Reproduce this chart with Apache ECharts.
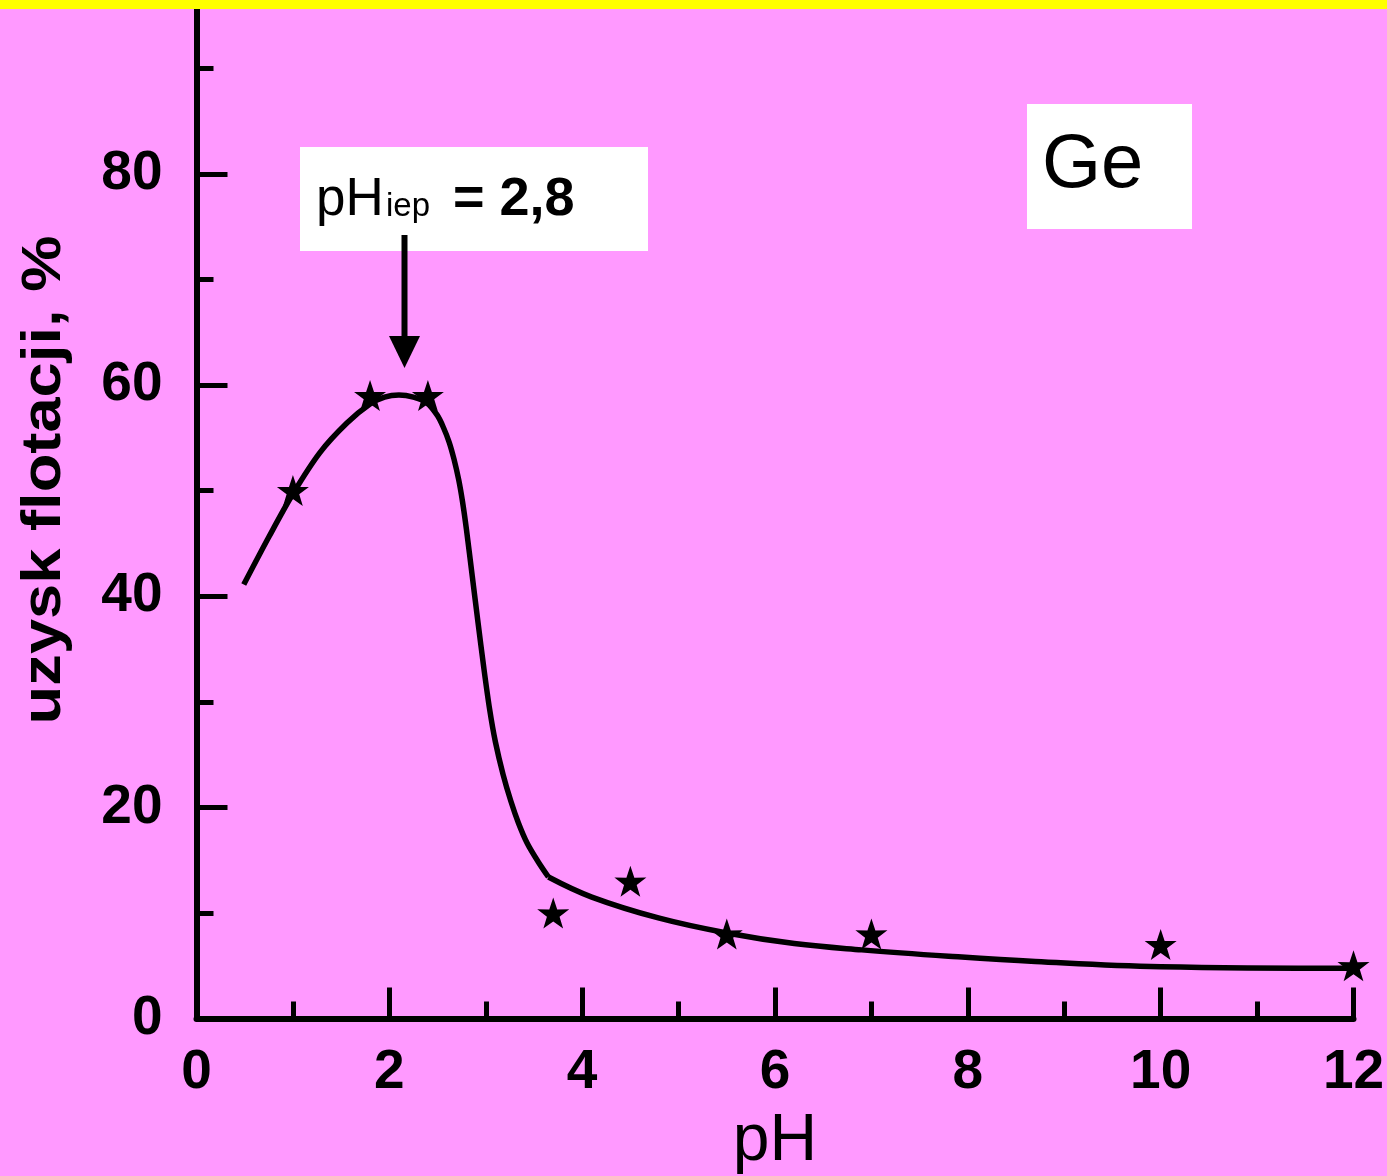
<!DOCTYPE html>
<html>
<head>
<meta charset="utf-8">
<script src="https://cdn.jsdelivr.net/npm/echarts@6/dist/echarts.min.js"></script>
<style>
html,body{margin:0;padding:0;background:#FF99FF;}
#chart{width:1387px;height:1176px;}
</style>
</head>
<body>
<div id="chart"></div>
<script>
// Measured points (stars)
const starPH = [1, 1.8, 2.4, 3.7, 4.5, 5.5, 7, 10, 12];
const starRecovery = [50, 59, 59, 10, 13, 8, 8, 7, 5];

// Fitted curve, acidic branch
const curveAcidPH  = [0.49, 0.75, 1.0, 1.28, 1.56, 1.8, 1.95, 2.1, 2.25, 2.39, 2.5, 2.56, 2.62, 2.67, 2.72, 2.76, 2.8, 2.86, 2.92, 2.98, 3.04, 3.10, 3.18, 3.26, 3.34, 3.43, 3.54, 3.65];
const curveAcidVal = [41.1, 45.6, 49.7, 53.6, 56.4, 58.2, 58.85, 59.05, 58.85, 58.3, 57.1, 56.0, 54.6, 53.0, 51.0, 48.9, 46.3, 41.9, 37.5, 33.2, 29.3, 26.2, 23.1, 20.6, 18.5, 16.6, 14.9, 13.4];

// Fitted curve, basic branch
const curveBasicPH  = [3.65, 4.1, 4.8, 5.5, 6.2, 6.9, 7.8, 8.7, 10.0, 12.0];
const curveBasicVal = [13.4, 11.5, 9.5, 8.1, 7.1, 6.5, 5.9, 5.4, 4.9, 4.75];

const xAxisTitle = 'pH';
const yAxisTitle = 'uzysk flotacji, %';
const iepMain = 'pH';
const iepSub = 'iep';
const iepValue = '= 2,8';
const elementLabel = 'Ge';

const zip = (a, b) => a.map((v, i) => [v, b[i]]);
const starPath = 'path://M50,0 L61.8,35.1 L97.6,34.5 L68.8,56.1 L79.4,90.5 L50,70 L20.6,90.5 L31.2,56.1 L2.4,34.5 L38.2,35.1 Z';

const chart = echarts.init(document.getElementById('chart'), null, {renderer: 'canvas'});
const tickFont = {fontFamily: 'Liberation Sans', fontWeight: 'bold', fontSize: 55, color: '#000'};

chart.setOption({
  backgroundColor: '#FF99FF',
  animation: false,
  grid: {left: 196.5, right: 33.5, top: -37.3, bottom: 157.5, containLabel: false, outerBoundsMode: 'none'},
  xAxis: {
    type: 'value', min: 0, max: 12, interval: 2,
    name: xAxisTitle, nameLocation: 'middle', nameGap: 90,
    nameTextStyle: {fontFamily: 'Liberation Sans', fontSize: 66, color: '#000'},
    axisLine: {show: true, onZero: false, lineStyle: {color: '#000', width: 6}},
    axisTick: {show: true, inside: true, length: 31, lineStyle: {color: '#000', width: 5}},
    minorTick: {show: true, splitNumber: 2, length: 17, lineStyle: {color: '#000', width: 5}},
    splitLine: {show: false},
    axisLabel: Object.assign({margin: 27}, tickFont)
  },
  yAxis: {
    type: 'value', min: 0, max: 100, interval: 20,
    axisLine: {show: true, onZero: false, lineStyle: {color: '#000', width: 6}},
    axisTick: {show: true, inside: true, length: 31, lineStyle: {color: '#000', width: 5}},
    minorTick: {show: true, splitNumber: 2, length: 17, lineStyle: {color: '#000', width: 5}},
    splitLine: {show: false},
    axisLabel: Object.assign({margin: 34, formatter: v => (v >= 100 ? '' : String(v))}, tickFont)
  },
  series: [
    {
      type: 'line', data: zip(curveAcidPH, curveAcidVal), smooth: 0.3,
      showSymbol: false, lineStyle: {color: '#000', width: 5.5}, z: 2
    },
    {
      type: 'line', data: zip(curveBasicPH, curveBasicVal), smooth: 0.4,
      showSymbol: false, lineStyle: {color: '#000', width: 5.5}, z: 2
    },
    {
      type: 'scatter', data: zip(starPH, starRecovery),
      symbol: starPath, symbolSize: [32, 31],
      itemStyle: {color: '#000', opacity: 1}, z: 3
    }
  ],
  graphic: [
    {type: 'rect', z: 100, shape: {x: 0, y: 0, width: 1387, height: 9}, style: {fill: '#FFFF00'}},
    {type: 'text', z: 100, x: 45, y: 480, rotation: Math.PI / 2, scaleX: 1.13,
      style: {text: yAxisTitle, fontFamily: 'Liberation Sans', fontWeight: 'bold', fontSize: 56, fill: '#000', align: 'center', verticalAlign: 'middle'}},
    {type: 'rect', z: 100, shape: {x: 300, y: 147, width: 348, height: 104}, style: {fill: '#FFFFFF'}},
    {type: 'text', z: 101, x: 316, y: 200,
      style: {text: iepMain, fontFamily: 'Liberation Sans', fontSize: 53, fill: '#000', align: 'left', verticalAlign: 'middle'}},
    {type: 'text', z: 101, x: 386, y: 207,
      style: {text: iepSub, fontFamily: 'Liberation Sans', fontSize: 33, fill: '#000', align: 'left', verticalAlign: 'middle'}},
    {type: 'text', z: 101, x: 453, y: 200,
      style: {text: iepValue, fontFamily: 'Liberation Sans', fontWeight: 'bold', fontSize: 54, fill: '#000', align: 'left', verticalAlign: 'middle'}},
    {type: 'line', z: 100, shape: {x1: 404.5, y1: 235, x2: 404.5, y2: 340}, style: {stroke: '#000', lineWidth: 6}},
    {type: 'polygon', z: 100, shape: {points: [[389, 336], [420, 336], [404.5, 368]]}, style: {fill: '#000'}},
    {type: 'rect', z: 100, shape: {x: 1027, y: 104, width: 165, height: 125}, style: {fill: '#FFFFFF'}},
    {type: 'text', z: 101, x: 1042, y: 166,
      style: {text: elementLabel, fontFamily: 'Liberation Sans', fontSize: 76, fill: '#000', align: 'left', verticalAlign: 'middle'}}
  ]
});
</script>
</body>
</html>
